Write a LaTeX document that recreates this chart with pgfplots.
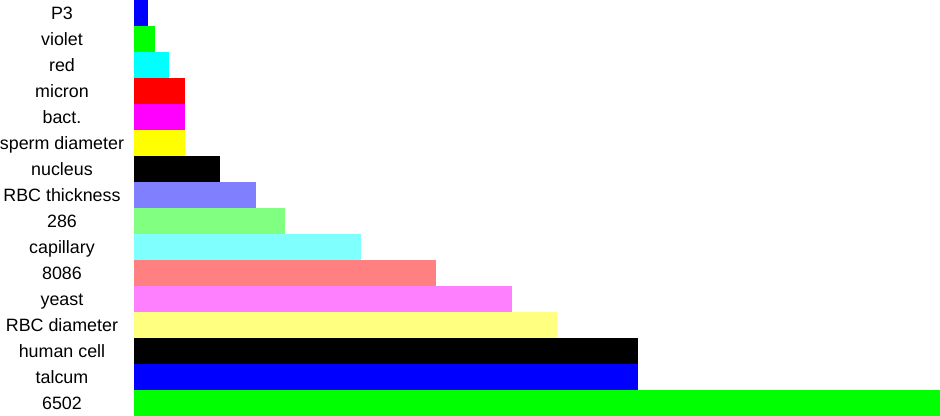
\documentclass[border=0pt]{standalone}
\usepackage{fontspec}
\setmainfont{Liberation Sans}
\usepackage{pgfplots}
\pgfplotsset{compat=1.18}
\definecolor{c1}{RGB}{0,0,255}
\definecolor{c2}{RGB}{0,255,0}
\definecolor{c3}{RGB}{0,255,255}
\definecolor{c4}{RGB}{255,0,0}
\definecolor{c5}{RGB}{255,0,255}
\definecolor{c6}{RGB}{255,255,0}
\definecolor{c7}{RGB}{0,0,0}
\definecolor{c8}{RGB}{128,128,255}
\definecolor{c9}{RGB}{128,255,128}
\definecolor{c10}{RGB}{128,255,255}
\definecolor{c11}{RGB}{255,128,128}
\definecolor{c12}{RGB}{255,128,255}
\definecolor{c13}{RGB}{255,255,128}
\newcommand\LB[1]{\makebox[93pt][c]{#1}}
\begin{document}
\begin{tikzpicture}
\begin{axis}[
  scale only axis,
  width=604.5pt, height=312pt,
  xmin=0, xmax=16, ymin=-0.5, ymax=15.5,
  y dir=reverse,
  xbar, bar width=19.5pt, bar shift=0pt,
  axis line style={draw=none},
  xtick=\empty,
  ytick={0,...,15},
  major tick length=0pt,
  yticklabels={\LB{P3},\LB{violet},\LB{red},\LB{micron},\LB{bact.},\LB{sperm diameter},\LB{nucleus},\LB{RBC thickness},\LB{286},\LB{capillary},\LB{8086},\LB{yeast},\LB{RBC diameter},\LB{human cell},\LB{talcum},\LB{6502}},
  yticklabel style={anchor=east, inner sep=0pt, xshift=-7.5pt,
    font=\fontsize{13.4}{16}\selectfont, text height=9.6pt, text depth=0pt},
  every axis plot/.append style={draw=none},
]
\addplot[fill=c1] coordinates {(0.27,0)};
\addplot[fill=c2] coordinates {(0.42,1)};
\addplot[fill=c3] coordinates {(0.70,2)};
\addplot[fill=c4] coordinates {(1.01,3)};
\addplot[fill=c5] coordinates {(1.01,4)};
\addplot[fill=c6] coordinates {(1.01,5)};
\addplot[fill=c7] coordinates {(1.70,6)};
\addplot[fill=c8] coordinates {(2.41,7)};
\addplot[fill=c9] coordinates {(3.0,8)};
\addplot[fill=c10] coordinates {(4.5,9)};
\addplot[fill=c11] coordinates {(6.0,10)};
\addplot[fill=c12] coordinates {(7.5,11)};
\addplot[fill=c13] coordinates {(8.4,12)};
\addplot[fill=c7] coordinates {(10.0,13)};
\addplot[fill=c1] coordinates {(10.0,14)};
\addplot[fill=c2] coordinates {(16.0,15)};
\end{axis}
\end{tikzpicture}
\end{document}
